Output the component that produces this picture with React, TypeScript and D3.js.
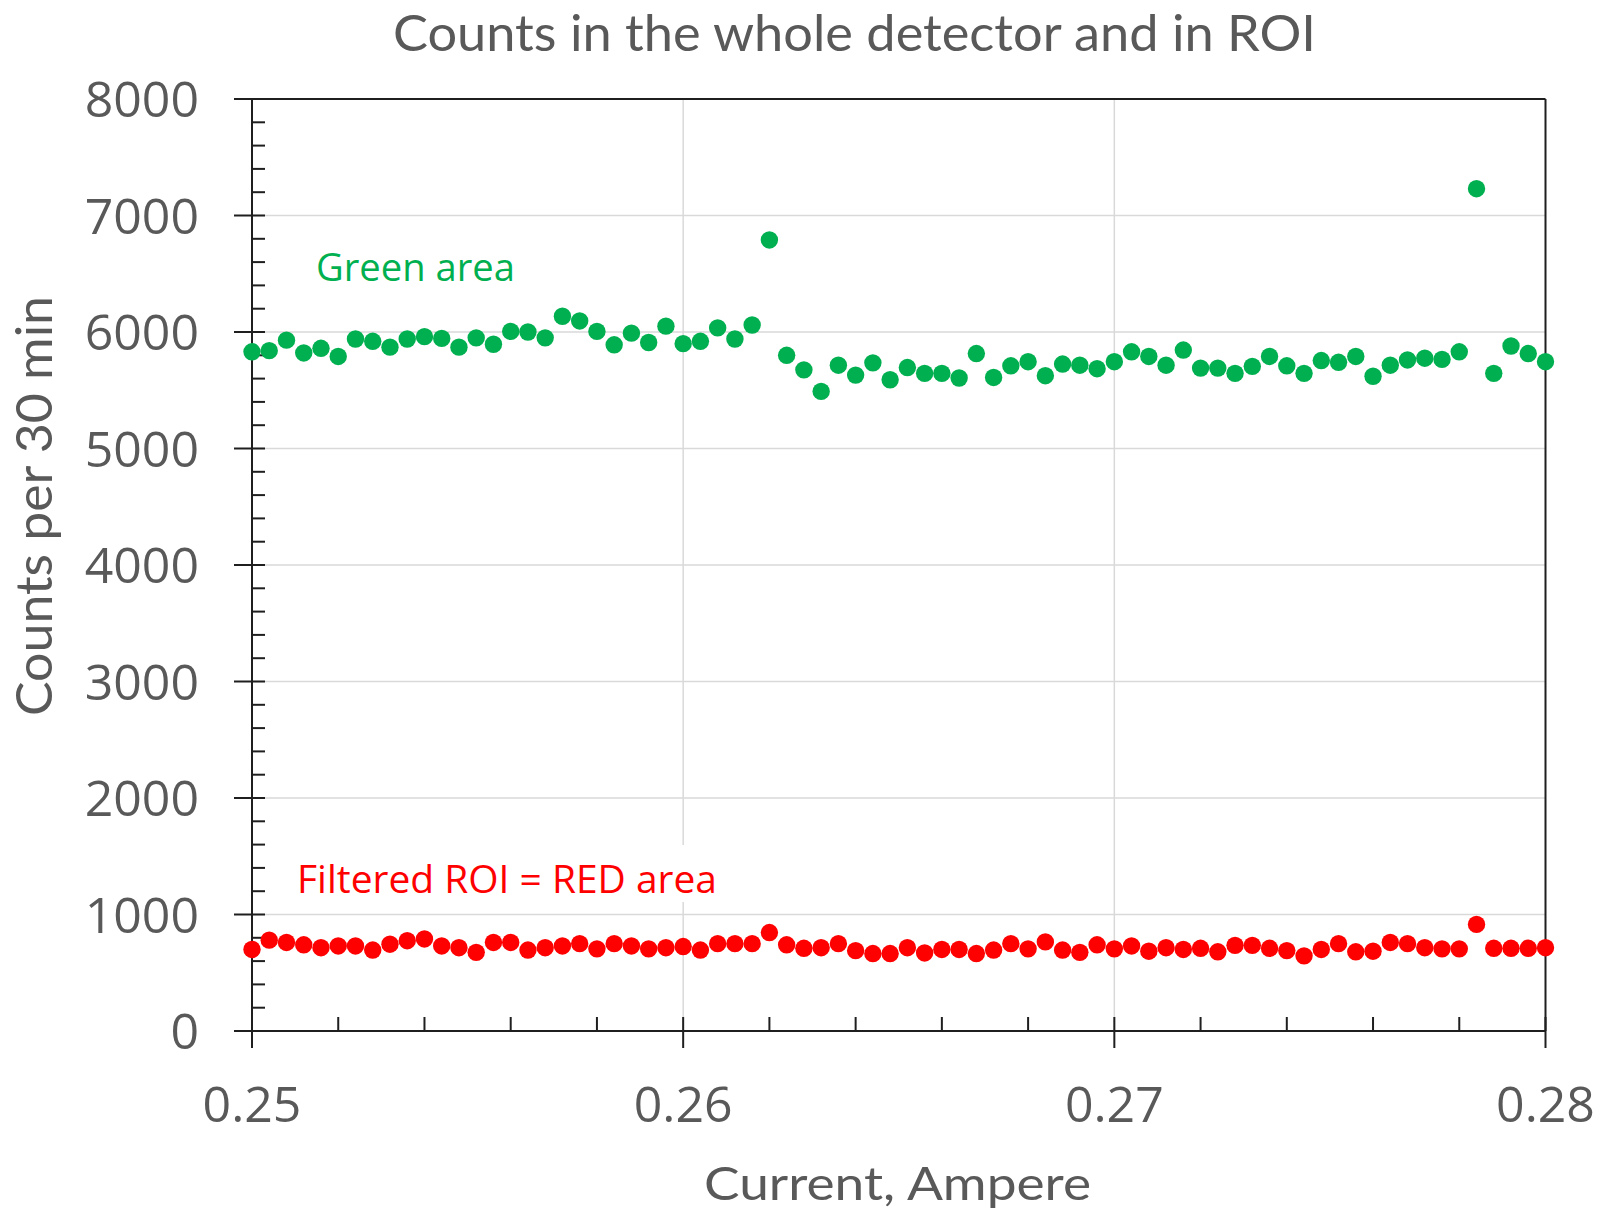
import React from "react";
import * as d3 from "d3";

const currents = [
  0.25, 0.2504, 0.2508, 0.2512, 0.2516, 0.252, 0.2524, 0.2528, 0.2532, 0.2536,
  0.254, 0.2544, 0.2548, 0.2552, 0.2556, 0.256, 0.2564, 0.2568, 0.2572, 0.2576,
  0.258, 0.2584, 0.2588, 0.2592, 0.2596, 0.26, 0.2604, 0.2608, 0.2612, 0.2616,
  0.262, 0.2624, 0.2628, 0.2632, 0.2636, 0.264, 0.2644, 0.2648, 0.2652, 0.2656,
  0.266, 0.2664, 0.2668, 0.2672, 0.2676, 0.268, 0.2684, 0.2688, 0.2692, 0.2696,
  0.27, 0.2704, 0.2708, 0.2712, 0.2716, 0.272, 0.2724, 0.2728, 0.2732, 0.2736,
  0.274, 0.2744, 0.2748, 0.2752, 0.2756, 0.276, 0.2764, 0.2768, 0.2772, 0.2776,
  0.278, 0.2784, 0.2788, 0.2792, 0.2796, 0.28,
];

const greenCounts = [
  5830, 5840, 5930, 5820, 5860, 5790, 5940, 5920, 5870, 5940,
  5960, 5945, 5870, 5950, 5895, 6005, 6000, 5950, 6135, 6095,
  6005, 5890, 5990, 5910, 6050, 5900, 5920, 6035, 5940, 6060,
  6790, 5800, 5675, 5490, 5715, 5630, 5735, 5590, 5695, 5645,
  5645, 5605, 5815, 5610, 5710, 5745, 5625, 5725, 5715, 5685,
  5745, 5830, 5790, 5715, 5845, 5690, 5690, 5645, 5705, 5790,
  5710, 5645, 5755, 5740, 5790, 5620, 5715, 5760, 5775, 5765,
  5830, 7230, 5645, 5880, 5815, 5745,
];

const redCounts = [
  700, 780, 760, 740, 715, 730, 730, 695, 745, 775,
  790, 730, 715, 675, 760, 760, 695, 715, 730, 750,
  705, 750, 730, 705, 715, 725, 695, 750, 750, 750,
  845, 740, 710, 715, 750, 690, 665, 665, 715, 670,
  700, 700, 665, 695, 750, 705, 765, 695, 675, 740,
  705, 730, 685, 715, 700, 710, 680, 735, 735, 710,
  690, 645, 700, 750, 680, 685, 760, 750, 715, 705,
  705, 915, 710, 710, 710, 715,
];

const yTicks = [0, 1000, 2000, 3000, 4000, 5000, 6000, 7000, 8000];
const xTicks = [0.25, 0.26, 0.27, 0.28];
const xTickLabels = ["0.25", "0.26", "0.27", "0.28"];

const TITLE = "Counts in the whole detector and in ROI";
const X_TITLE = "Current, Ampere";
const Y_TITLE = "Counts per 30 min";
const GREEN_LABEL = "Green area";
const RED_LABEL = "Filtered ROI = RED area";

const W = 1599;
const H = 1210;
const L = 252;
const R = 1545.5;
const T = 99;
const B = 1031;

export default function App() {
  const x = d3.scaleLinear().domain([0.25, 0.28]).range([L, R]);
  const y = d3.scaleLinear().domain([0, 8000]).range([B, T]);

  const yMinor = d3.range(0, 8001, 200).filter((v) => v % 1000 !== 0);
  const xMinor = d3.range(0, 16).map((i) => 0.25 + i * 0.002).filter((v, i) => i % 5 !== 0);

  const axisColor = "#1f1f1f";
  const textColor = "#595959";
  const gridColor = "#d9d9d9";
  const green = "#00B050";
  const red = "#FF0000";
  const r = 8.7;

  return (
    <svg
      width={W}
      height={H}
      style={{ position: "absolute", left: 0, top: 0, background: "#fff" }}
    >
      <rect x={0} y={0} width={W} height={H} fill="#fff" />
      {yTicks.slice(1, -1).map((v) => (
        <line key={"gy" + v} x1={L} x2={R} y1={y(v)} y2={y(v)} stroke={gridColor} strokeWidth={1.5} />
      ))}
      {xTicks.slice(1, -1).map((v) => (
        <line key={"gx" + v} x1={x(v)} x2={x(v)} y1={T} y2={B} stroke={gridColor} strokeWidth={1.5} />
      ))}

      <rect x={288} y={845} width={440} height={57} fill="#fff" />

      <line x1={L} x2={R} y1={T} y2={T} stroke={axisColor} strokeWidth={2} />
      <line x1={R} x2={R} y1={T} y2={B} stroke={axisColor} strokeWidth={2} />
      <line x1={L} x2={L} y1={T} y2={B + 17} stroke={axisColor} strokeWidth={2} />
      <line x1={L - 18} x2={R} y1={B} y2={B} stroke={axisColor} strokeWidth={2} />

      {yTicks.map((v) => (
        <line key={"yt" + v} x1={L - 18} x2={L + 13} y1={y(v)} y2={y(v)} stroke={axisColor} strokeWidth={2} />
      ))}
      {yMinor.map((v) => (
        <line key={"ym" + v} x1={L} x2={L + 13} y1={y(v)} y2={y(v)} stroke={axisColor} strokeWidth={2} />
      ))}
      {xTicks.map((v) => (
        <line key={"xt" + v} x1={x(v)} x2={x(v)} y1={B - 14} y2={B + 17} stroke={axisColor} strokeWidth={2} />
      ))}
      {xMinor.map((v) => (
        <line key={"xm" + v} x1={x(v)} x2={x(v)} y1={B - 14} y2={B} stroke={axisColor} strokeWidth={2} />
      ))}

      {yTicks.map((v) => (
        <text
          key={"yl" + v}
          x={199}
          y={y(v) + 18}
          textAnchor="end"
          fontFamily="'Open Sans', sans-serif"
          fontSize={50}
          fill={textColor}
        >
          {String(v)}
        </text>
      ))}
      {xTicks.map((v, i) => (
        <text
          key={"xl" + v}
          x={x(v)}
          y={1122}
          textAnchor="middle"
          fontFamily="'Open Sans', sans-serif"
          fontSize={50}
          fill={textColor}
        >
          {xTickLabels[i]}
        </text>
      ))}

      {currents.map((c, i) => (
        <circle key={"g" + i} cx={x(c)} cy={y(greenCounts[i])} r={r} fill={green} />
      ))}
      {currents.map((c, i) => (
        <circle key={"r" + i} cx={x(c)} cy={y(redCounts[i])} r={r} fill={red} />
      ))}

      <text
        x={316}
        y={281}
        fontFamily="'Open Sans', sans-serif"
        fontSize={39}
        fill={green}
        textLength={199}
        lengthAdjust="spacingAndGlyphs"
      >
        {GREEN_LABEL}
      </text>
      <text
        x={297}
        y={893}
        fontFamily="'Open Sans', sans-serif"
        fontSize={38}
        fill={red}
        textLength={420}
        lengthAdjust="spacingAndGlyphs"
      >
        {RED_LABEL}
      </text>

      <text
        x={393}
        y={51}
        fontFamily="Lato, sans-serif"
        fontSize={50}
        fill={textColor}
        textLength={923}
        lengthAdjust="spacingAndGlyphs"
      >
        {TITLE}
      </text>
      <text
        x={704}
        y={1200}
        fontFamily="Lato, sans-serif"
        fontSize={47}
        fill={textColor}
        textLength={387}
        lengthAdjust="spacingAndGlyphs"
      >
        {X_TITLE}
      </text>
      <text
        transform="translate(52, 506) rotate(-90)"
        x={0}
        y={0}
        textAnchor="middle"
        fontFamily="Lato, sans-serif"
        fontSize={50}
        fill={textColor}
        textLength={420}
        lengthAdjust="spacingAndGlyphs"
      >
        {Y_TITLE}
      </text>
    </svg>
  );
}
